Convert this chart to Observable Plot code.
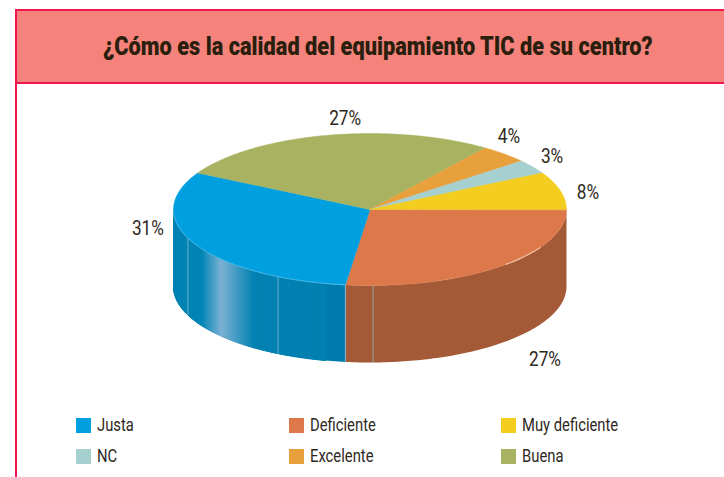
<!DOCTYPE html>
<html lang="es"><head><meta charset="utf-8">
<script src="https://cdn.jsdelivr.net/npm/d3@7"></script>
<script src="https://cdn.jsdelivr.net/npm/@observablehq/plot@0.6"></script>
<style>
html,body{margin:0;padding:0;background:#fff;overflow:hidden}
#page{width:707px;height:468px;margin:9px 0 0 15px;border-left:2px solid #f0174f;position:relative;overflow:hidden;font-family:"Roboto",sans-serif;color:#2e281c}
#head{height:71px;background:#f5837c;border-top:2px solid #f0174f;border-bottom:2px solid #f0174f;display:flex;align-items:center;justify-content:center}
#head h1{margin:0 0 0 14px;font-size:26px;font-weight:900;color:#2a1e0c;line-height:1;position:relative;top:-1px;white-space:nowrap;transform:scaleX(.838)}
#chart svg{display:block}
#legend{position:absolute;left:59px;top:409px;display:grid;grid-template-columns:213px 212px 190px;grid-auto-rows:31px}
.it{display:flex;align-items:flex-start;font-size:18.5px;line-height:18px}
.sw{width:15px;height:15px;margin:0 6px 0 0;flex:none}
.it span{position:relative;top:-2px;display:inline-block;white-space:nowrap;transform:scaleX(.8);transform-origin:0 50%}
</style></head><body>
<div id="page">
<div id="head"><h1 id="title"></h1></div>
<div id="chart"></div>
<div id="legend"></div></div>
<script>
const titleText = "¿Cómo es la calidad del equipamiento TIC de su centro?";
// Data, in drawing order clockwise from 3 o'clock
const categories = ["Deficiente","Justa","Buena","Excelente","NC","Muy deficiente"];
const values = [27,31,27,4,3,8];
const topColors = ["#dd784b","#00a0e0","#a8b260","#e8a03c","#a6cfd0","#f3cd20"];
const sideColors = ["#a55a37","#007bad","#7f8648","#b07a2c","#7d9d9e","#b89a16"];
const legendOrder = ["Justa","Deficiente","Muy deficiente","NC","Excelente","Buena"];

// Layout of the pseudo-3D pie
const W=707, H=317, left=17, topY=83;
const cx=369.5, cy=208, rx=196.5, ry=76, depth=77;
const labelNudge = [[45,93],[-47,-15.5],[18,-17],[4.5,-17.6],[19.5,-11],[27.6,2]];
const shineX = [173,200,220,253,566];
const shineC = ["#0082b2","#0086b6","#7cb1d4","#0082b2","#007bad"];
const seamColor = "#8fc0d6";

const rad = a => a*Math.PI/180;
const rimX = a => cx+rx*Math.cos(rad(a));
const rimY = a => cy+ry*Math.sin(rad(a));
const total = d3.sum(values);
let acc=0;
const slices = categories.map((c,i)=>{const a0=acc/total*360; acc+=values[i]; const a1=acc/total*360;
  return {c,i,a0,a1,mid:(a0+a1)/2};});

// top faces
const topPts=[];
for(const s of slices){
  topPts.push({k:s.c,x:cx,y:cy,f:topColors[s.i]});
  const n=Math.ceil((s.a1-s.a0)*2);
  for(let j=0;j<=n;j++){const a=s.a0+(s.a1-s.a0)*j/n; topPts.push({k:s.c,x:rimX(a),y:rimY(a),f:topColors[s.i]});}
}
// side walls: one solid polygon for each front slice
const wallPts=[];
for(const s of slices.filter(s=>s.a0<180)){
  const end=Math.min(s.a1,180), as=d3.range(s.a0,end,1).concat(end);
  for(const a of as) wallPts.push({k:s.c,x:rimX(a),y:rimY(a),f:sideColors[s.i]});
  for(const a of as.slice().reverse()) wallPts.push({k:s.c,x:rimX(a),y:rimY(a)+depth,f:sideColors[s.i]});
}
// highlight band on the blue wall
const shine=d3.scaleLinear().domain(shineX).range(shineC);
const stripPts=[];
const justa=slices[1];
for(let a=justa.a0+6;a<180;a+=1){
  const b=Math.min(a+1,180);
  const col=shine((rimX(a)+rimX(b))/2), k="s"+a;
  for(const [x,y] of [[rimX(a),rimY(a)],[rimX(b),rimY(b)],[rimX(b),rimY(b)+depth],[rimX(a),rimY(a)+depth]])
    stripPts.push({k,x,y,f:col});
}
// seams on the wall and rim highlights
const seamAngles=[157.9,117.9,97.2,89.1];
const seams=seamAngles.flatMap(a=>[{k:a,x:rimX(a),y:rimY(a)},{k:a,x:rimX(a),y:rimY(a)+depth}]);
const rimGlint=d3.range(30,47,1).map(a=>({x:rimX(a),y:rimY(a)}));
const rimBlue=d3.range(97.2,180,1).map(a=>({x:rimX(a),y:rimY(a)}));
const labels=slices.map(s=>({t:values[s.i]+"%",x:rimX(s.mid)+labelNudge[s.i][0],y:rimY(s.mid)+labelNudge[s.i][1]}));

const plot=Plot.plot({
  width:W,height:H,margin:0,
  x:{domain:[left,left+W],range:[0,W],axis:null},
  y:{domain:[topY,topY+H],range:[0,H],axis:null},
  marks:[
    Plot.line(wallPts,{x:"x",y:"y",z:"k",fill:"f",curve:"linear-closed"}),
    Plot.line(stripPts,{x:"x",y:"y",z:"k",fill:"f",stroke:"f",strokeWidth:1,curve:"linear-closed"}),
    Plot.line(seams,{x:"x",y:"y",z:"k",stroke:seamColor,strokeWidth:1,strokeOpacity:0.75}),
    Plot.line(topPts,{x:"x",y:"y",z:"k",fill:"f",stroke:"f",strokeWidth:0.5,curve:"linear-closed"}),
    Plot.line(rimGlint,{x:"x",y:"y",stroke:"#edc2a4",strokeWidth:1.2}),
    Plot.line(rimBlue,{x:"x",y:"y",stroke:"#5fbfe6",strokeWidth:0.8}),
    Plot.text(labels,{x:"x",y:"y",text:"t",fontSize:21,fill:"#2e281c",fontFamily:'"Roboto",sans-serif'})
  ]
});
document.getElementById("chart").append(plot);
// the reference uses a condensed face: narrow the percent labels
plot.querySelectorAll("text").forEach(t=>{
  t.setAttribute("textLength",t.getComputedTextLength()*0.82);
  t.setAttribute("lengthAdjust","spacingAndGlyphs");
});
document.getElementById("title").textContent=titleText;
const lg=document.getElementById("legend");
for(const name of legendOrder){
  const it=document.createElement("div");it.className="it";
  const sw=document.createElement("div");sw.className="sw";sw.style.background=topColors[categories.indexOf(name)];
  const sp=document.createElement("span");sp.textContent=name;
  it.append(sw,sp);lg.append(it);
}
</script></body></html>
